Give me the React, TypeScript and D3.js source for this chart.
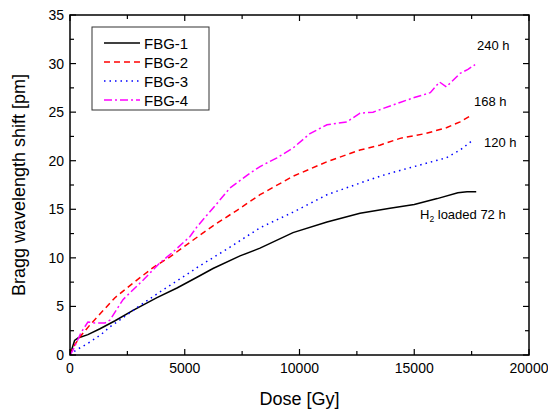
import React from 'react'
import * as d3 from 'd3'

// dose [Gy] / shift [pm]
const fbg1Dose = [0, 200, 350, 780, 1307, 1945, 2745, 3790, 4662, 5534, 6231, 7408, 8279, 9717, 11198, 12636, 13943, 15000, 16000, 16900, 17300, 17700]
const fbg1Shift = [0, 1.5, 1.75, 2.1, 2.7, 3.5, 4.6, 5.9, 6.9, 8.0, 8.9, 10.2, 11.0, 12.6, 13.7, 14.6, 15.1, 15.5, 16.1, 16.7, 16.8, 16.8]

const fbg2Dose = [0, 40, 480, 871, 1220, 1960, 2745, 3617, 4357, 5229, 6231, 7277, 8279, 9717, 11198, 12636, 13500, 14380, 15500, 16400, 17000, 17500]
const fbg2Shift = [0, 0.5, 2.0, 3.1, 4.0, 5.9, 7.4, 9.0, 10.1, 11.6, 13.3, 14.9, 16.5, 18.4, 19.9, 21.1, 21.6, 22.3, 22.8, 23.4, 24.0, 24.7]

const fbg3Dose = [0, 260, 780, 1350, 1743, 2527, 3050, 4052, 5229, 5534, 6972, 8279, 9717, 11198, 12636, 13500, 14380, 15000, 16400, 17000, 17600]
const fbg3Shift = [0, 0.5, 1.2, 2.1, 2.9, 4.2, 5.1, 6.7, 8.5, 9.0, 11.1, 13.1, 14.7, 16.5, 17.7, 18.4, 19.0, 19.4, 20.3, 21.1, 22.2]

const fbg4Dose = [0, 130, 480, 780, 1090, 1525, 1743, 2309, 3181, 3922, 4488, 5229, 5534, 6405, 6972, 7712, 8279, 9020, 9717, 10458, 11198, 12070, 12636, 13203, 14380, 15000, 15700, 16100, 16400, 17000, 17340, 17650]
const fbg4Shift = [0, 0.5, 2.3, 3.4, 3.3, 3.3, 3.6, 5.7, 7.7, 9.5, 10.6, 12.2, 13.2, 15.6, 17.2, 18.5, 19.4, 20.3, 21.3, 22.8, 23.7, 24.0, 24.9, 25.0, 26.0, 26.5, 27.0, 28.1, 27.6, 29.0, 29.4, 29.9]

const seriesNames = ['FBG-1', 'FBG-2', 'FBG-3', 'FBG-4']
const seriesColors = ['#000000', '#ff0000', '#0000ff', '#ff00ff']
const seriesDash = ['none', '6 4', '1.5 4', '8 3 2 3']

const xTicks = [0, 5000, 10000, 15000, 20000]
const yTicks = [0, 5, 10, 15, 20, 25, 30, 35]

const width = 548
const height = 410
const left = 70
const right = 529
const top = 15
const bottom = 355
const font = 'Arial, "Liberation Sans", sans-serif'

export default function App() {
  const x = d3.scaleLinear().domain([0, 20000]).range([left, right])
  const y = d3.scaleLinear().domain([0, 35]).range([bottom, top])
  const line = d3.line<[number, number]>().x(d => x(d[0])).y(d => y(d[1]))

  const series = [
    d3.zip(fbg1Dose, fbg1Shift),
    d3.zip(fbg2Dose, fbg2Shift),
    d3.zip(fbg3Dose, fbg3Shift),
    d3.zip(fbg4Dose, fbg4Shift),
  ] as [number, number][][]

  const xMinor = d3.range(0, 20001, 2500)
  const yMinor = d3.range(0, 35.01, 2.5)

  return (
    <svg width={width} height={height} style={{ position: 'absolute', left: 0, top: 0 }} fontFamily={font}>
      <rect width={width} height={height} fill="#fff" />
      <defs>
        <clipPath id="plot">
          <rect x={left} y={top} width={right - left} height={bottom - top} />
        </clipPath>
      </defs>

      {/* curves */}
      <g clipPath="url(#plot)">
        {series.map((s, i) => (
          <path key={i} d={line(s) || ''} fill="none" stroke={seriesColors[i]}
            strokeWidth={1.5} strokeDasharray={seriesDash[i]} />
        ))}
      </g>

      {/* frame + ticks, all inward */}
      <rect x={left} y={top} width={right - left} height={bottom - top} fill="none" stroke="#000" strokeWidth={1.5} />
      {xMinor.map(v => {
        const len = v % 5000 === 0 ? 6 : 4
        return (
          <g key={'x' + v}>
            <line x1={x(v)} x2={x(v)} y1={bottom} y2={bottom - len} stroke="#000" strokeWidth={1.2} />
            <line x1={x(v)} x2={x(v)} y1={top} y2={top + len} stroke="#000" strokeWidth={1.2} />
          </g>
        )
      })}
      {yMinor.map(v => {
        const len = v % 5 === 0 ? 6 : 4
        return (
          <g key={'y' + v}>
            <line x1={left} x2={left + len} y1={y(v)} y2={y(v)} stroke="#000" strokeWidth={1.2} />
            <line x1={right} x2={right - len} y1={y(v)} y2={y(v)} stroke="#000" strokeWidth={1.2} />
          </g>
        )
      })}

      {/* tick labels */}
      {xTicks.map(v => (
        <text key={'xl' + v} x={x(v)} y={bottom + 18} textAnchor="middle" fontSize={14}>{v}</text>
      ))}
      {yTicks.map(v => (
        <text key={'yl' + v} x={left - 6} y={y(v) + 5} textAnchor="end" fontSize={14}>{v}</text>
      ))}

      {/* axis titles */}
      <text x={(left + right) / 2} y={405} textAnchor="middle" fontSize={18}>Dose [Gy]</text>
      <text transform={`translate(25,${(top + bottom) / 2}) rotate(-90)`} textAnchor="middle" fontSize={18}>
        Bragg wavelength shift [pm]
      </text>

      {/* legend */}
      <rect x={92} y={27} width={117} height={83} fill="#fff" stroke="#333" strokeWidth={1} />
      {seriesNames.map((n, i) => (
        <g key={n} transform={`translate(0,${43 + i * 19})`}>
          <line x1={104} x2={140} y1={0} y2={0} stroke={seriesColors[i]} strokeWidth={1.5} strokeDasharray={seriesDash[i]} />
          <text x={144} y={5.5} fontSize={15}>{n}</text>
        </g>
      ))}

      {/* annotations */}
      <text x={477} y={50} fontSize={13}>240 h</text>
      <text x={474} y={106} fontSize={13}>168 h</text>
      <text x={484} y={147} fontSize={13}>120 h</text>
      <text x={420} y={219} fontSize={13}>
        H<tspan fontSize={8.5} dy={3}>2</tspan><tspan dy={-3}> loaded 72 h</tspan>
      </text>
    </svg>
  )
}
